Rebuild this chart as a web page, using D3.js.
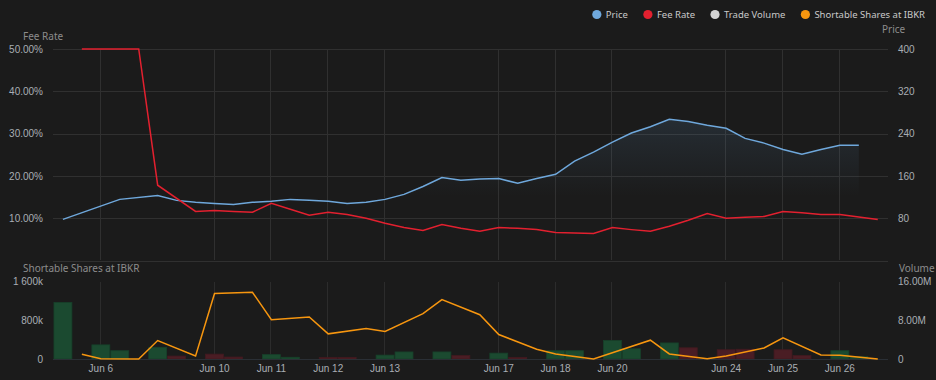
<!DOCTYPE html>
<html>
<head>
<meta charset="utf-8">
<script src="https://cdn.jsdelivr.net/npm/d3@7"></script>
<style>
  html, body { margin: 0; padding: 0; background: #1b1b1b; }
  svg { display: block; font-family: "Noto Sans", sans-serif; }
</style>
</head>
<body>
<div id="chart"></div>
<script>
// trading days, each split into 3 slots
const days = ['Jun 5', 'Jun 6', 'Jun 7', 'Jun 10', 'Jun 11', 'Jun 12', 'Jun 13', 'Jun 14',
  'Jun 17', 'Jun 18', 'Jun 20', 'Jun 21', 'Jun 24', 'Jun 25', 'Jun 26', 'Jun 27']
const tickDays = ['Jun 6', 'Jun 10', 'Jun 11', 'Jun 12', 'Jun 13', 'Jun 17', 'Jun 18',
  'Jun 20', 'Jun 24', 'Jun 25', 'Jun 26']

// values per slot (null = no point)
const price = [null, 77.7, null, null, 115.6, null, 123, 113.7, 110, 108, 106, 110, 112, 115.6, 114,
  112, 108, 110, 115.6, 125, 140, 157, 152, 154, 155, 146, 155, 163, 188, 205, 224, 241, 253, 267,
  263, 256, 250, 231, 222, 210, 201, 210, 218, 218]
const feeRate = [null, null, 50, 50, 50, 50, 17.8, null, 11.6, 11.8, 11.6, 11.4, 13.5, 12.1, 10.7,
  11.4, 10.9, 10.0, 8.8, 7.8, 7.1, 8.5, 7.6, 6.9, 7.8, 7.6, 7.3, 6.6, 6.5, 6.4, 7.8, 7.3, 6.9, 8.1,
  9.5, 11.1, 10.0, 10.2, 10.4, 11.6, 11.3, 10.9, 10.9, 10.3, 9.7]
// trade volume in millions, 1 = up bar, -1 = down bar
const volume = [null, 11.6, null, 2.9, 1.7, null, 2.4, 0.6, null, 1.0, 0.4, null, 0.9, 0.35, null,
  0.3, 0.3, null, 0.8, 1.45, null, 1.45, 0.7, null, 1.2, 0.3, null, 1.7, 1.7, null, 3.8, 2.1, null,
  3.3, 2.3, null, 1.9, 2.0, null, 1.9, 0.7, null, 1.7, 0.5]
const volumeDir = [0, 1, 0, 1, 1, 0, 1, -1, 0, -1, -1, 0, 1, 1, 0, -1, -1, 0, 1, 1, 0, 1, -1, 0,
  1, -1, 0, 1, 1, 0, 1, 1, 0, 1, -1, 0, -1, -1, 0, -1, -1, 0, 1, 1]
// shortable shares in thousands
const shortable = [null, null, 97, 6, null, 0, 378, null, 62, 1342, null, 1369, 805, null, 861,
  516, null, 626, 564, null, 929, 1218, null, 908, 502, null, 200, 103, null, 0, null, null, 386,
  103, null, 6, 62, null, 227, 434, null, 83, 76, null, 0]

const legendItems = [
  { name: 'Price', color: '#6fa8dc' },
  { name: 'Fee Rate', color: '#e3202f' },
  { name: 'Trade Volume', color: '#d4d4d4' },
  { name: 'Shortable Shares at IBKR', color: '#f7960f' }
]

const width = 936
const height = 380
const textColor = '#a9aeb4'
const gridColor = '#303030'

const svg = d3.select('#chart').append('svg')
  .attr('width', width)
  .attr('height', height)

svg.append('rect').attr('width', width).attr('height', height).attr('fill', '#1b1b1b')

const slots = days.flatMap(d => [0, 1, 2].map(k => d + '|' + k))
const slotW = 18.95
const x = d3.scaleBand()
  .domain(slots)
  .range([34.5, 34.5 + slots.length * slotW])
  .padding(0)
const cx = i => x(slots[i]) + x.bandwidth() / 2

// scales
const yFee = d3.scaleLinear().domain([0, 50]).range([260.5, 49])
const yPrice = d3.scaleLinear().domain([0, 400]).range([260.5, 49])
const yShort = d3.scaleLinear().domain([0, 1600]).range([359, 281])
const yVol = d3.scaleLinear().domain([0, 16]).range([359, 281])

const gridLeft = 53
const gridRight = 888

// horizontal grid (top panel)
svg.append('g')
  .selectAll('line')
  .data([0, 10, 20, 30, 40, 50])
  .join('line')
  .attr('x1', gridLeft)
  .attr('x2', gridRight)
  .attr('y1', d => Math.round(yFee(d)) + 0.5)
  .attr('y2', d => Math.round(yFee(d)) + 0.5)
  .attr('stroke', gridColor)

// vertical grid (both panels)
const tickSlots = tickDays.map(d => d + '|0')
svg.append('g')
  .selectAll('line')
  .data(tickSlots)
  .join('line')
  .attr('x1', d => Math.round(x(d) + x.bandwidth() / 2) - 0.5)
  .attr('x2', d => Math.round(x(d) + x.bandwidth() / 2) - 0.5)
  .attr('y1', 49)
  .attr('y2', 260)
  .attr('stroke', gridColor)

svg.append('g')
  .selectAll('line')
  .data(tickSlots)
  .join('line')
  .attr('x1', d => Math.round(x(d) + x.bandwidth() / 2) - 0.5)
  .attr('x2', d => Math.round(x(d) + x.bandwidth() / 2) - 0.5)
  .attr('y1', 282)
  .attr('y2', 359)
  .attr('stroke', '#2c2c2c')

// price area with fading fill
const defs = svg.append('defs')
const grad = defs.append('linearGradient')
  .attr('id', 'priceFill')
  .attr('gradientUnits', 'userSpaceOnUse')
  .attr('x1', 0).attr('x2', 0)
  .attr('y1', 118).attr('y2', 196)
grad.append('stop').attr('offset', 0).attr('stop-color', '#6fa8dc').attr('stop-opacity', 0.13)
grad.append('stop').attr('offset', 1).attr('stop-color', '#6fa8dc').attr('stop-opacity', 0)

const pricePts = price.map((v, i) => ({ i, v })).filter(d => d.v !== null)
const feePts = feeRate.map((v, i) => ({ i, v })).filter(d => d.v !== null)
const shortPts = shortable.map((v, i) => ({ i, v })).filter(d => d.v !== null)

svg.append('path')
  .datum(pricePts)
  .attr('fill', 'url(#priceFill)')
  .attr('d', d3.area().x(d => cx(d.i)).y0(yPrice(0)).y1(d => yPrice(d.v)))

svg.append('path')
  .datum(pricePts)
  .attr('fill', 'none')
  .attr('stroke', '#6fa8dc')
  .attr('stroke-width', 1.5)
  .attr('d', d3.line().x(d => cx(d.i)).y(d => yPrice(d.v)))

svg.append('path')
  .datum(feePts)
  .attr('fill', 'none')
  .attr('stroke', '#e3202f')
  .attr('stroke-width', 1.5)
  .attr('d', d3.line().x(d => cx(d.i)).y(d => yFee(d.v)))

// volume bars
const volPts = volume.map((v, i) => ({ i, v, dir: volumeDir[i] })).filter(d => d.v !== null)
svg.append('g')
  .selectAll('rect')
  .data(volPts)
  .join('rect')
  .attr('x', d => x(slots[d.i]) + 0.5)
  .attr('width', x.bandwidth() - 1)
  .attr('y', d => yVol(d.v))
  .attr('height', d => yVol(0) - yVol(d.v))
  .attr('fill', d => d.dir > 0 ? '#1b4a30' : '#4a1d24')
  .attr('stroke', d => d.dir > 0 ? '#17402a' : '#421a20')
  .attr('stroke-width', 0.8)

// baseline of lower panel
svg.append('line')
  .attr('x1', gridLeft).attr('x2', gridRight)
  .attr('y1', 359.5).attr('y2', 359.5)
  .attr('stroke', '#2a2f35')

svg.append('path')
  .datum(shortPts)
  .attr('fill', 'none')
  .attr('stroke', '#f7960f')
  .attr('stroke-width', 1.5)
  .attr('d', d3.line().x(d => cx(d.i)).y(d => yShort(d.v)))

// axes
function styleAxis (g) {
  g.select('.domain').remove()
  g.selectAll('text').attr('fill', textColor).style('font-size', '10px')
}

svg.append('g')
  .attr('transform', 'translate(46,0)')
  .call(d3.axisLeft(yFee).tickValues([10, 20, 30, 40, 50]).tickSize(0).tickPadding(3)
    .tickFormat(d => d.toFixed(2) + '%'))
  .call(styleAxis)

svg.append('g')
  .attr('transform', 'translate(895,0)')
  .call(d3.axisRight(yPrice).tickValues([80, 160, 240, 320, 400]).tickSize(0).tickPadding(3))
  .call(styleAxis)

svg.append('g')
  .attr('transform', 'translate(46,0)')
  .call(d3.axisLeft(yShort).tickValues([0, 800, 1600]).tickSize(0).tickPadding(3)
    .tickFormat(d => d === 0 ? '0' : d3.format(',')(d).replace(',', ' ') + 'k'))
  .call(styleAxis)

svg.append('g')
  .attr('transform', 'translate(895,0)')
  .call(d3.axisRight(yVol).tickValues([0, 8, 16]).tickSize(0).tickPadding(3)
    .tickFormat(d => d === 0 ? '0' : d.toFixed(2) + 'M'))
  .call(styleAxis)

svg.append('g')
  .attr('transform', 'translate(0,359)')
  .call(d3.axisBottom(x).tickValues(tickSlots).tickSize(0).tickPadding(6)
    .tickFormat(d => d.split('|')[0]))
  .call(styleAxis)

// axis titles
const titles = [
  { t: 'Fee Rate', x: 23, y: 40 },
  { t: 'Price', x: 882, y: 33 },
  { t: 'Shortable Shares at IBKR', x: 23, y: 272 },
  { t: 'Volume', x: 899, y: 272 }
]
svg.append('g')
  .selectAll('text')
  .data(titles)
  .join('text')
  .attr('x', d => d.x)
  .attr('y', d => d.y)
  .attr('fill', '#8c8c8c')
  .style('font-size', '10px')
  .text(d => d.t)

// legend, right aligned
const legend = svg.append('g')
const items = legend.selectAll('g')
  .data(legendItems)
  .join('g')
items.append('circle').attr('r', 4.6).attr('cy', 14.5).attr('fill', d => d.color)
items.append('text')
  .attr('x', 9)
  .attr('y', 18)
  .attr('fill', '#c9c9c9')
  .style('font-size', '9.5px')
  .text(d => d.name)

let cursor = 925
const widths = []
items.select('text').each(function () { widths.push(this.getComputedTextLength()) })
const pos = []
for (let i = legendItems.length - 1; i >= 0; i--) {
  const dotX = cursor - widths[i] - 9
  pos[i] = dotX
  cursor = dotX - 20
}
items.attr('transform', (d, i) => `translate(${pos[i]},0)`)
</script>
</body>
</html>
